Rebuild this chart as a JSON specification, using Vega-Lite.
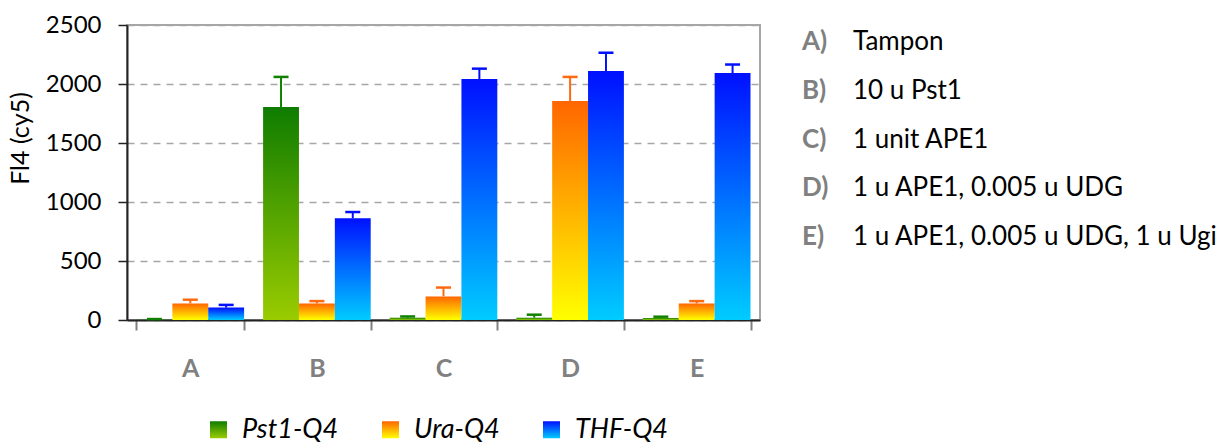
{
  "$schema": "https://vega.github.io/schema/vega-lite/v6.json",
  "background": "white",
  "padding": {"left": 7, "top": 12, "right": 0, "bottom": 0},
  "autosize": {"type": "pad"},
  "bounds": "flush",
  "spacing": 42,
  "config": {"font": "Lato", "view": {"stroke": null}},
  "hconcat": [
    {
      "width": 633,
      "height": 295,
      "view": {"stroke": "#a6a6a6", "strokeWidth": 2},
      "data": {
        "values": [
          {"cat": "A", "series": "Pst1-Q4", "value": 3, "upper": 8},
          {"cat": "A", "series": "Ura-Q4", "value": 140, "upper": 172},
          {"cat": "A", "series": "THF-Q4", "value": 105, "upper": 128},
          {"cat": "B", "series": "Pst1-Q4", "value": 1805, "upper": 2060},
          {"cat": "B", "series": "Ura-Q4", "value": 140, "upper": 160},
          {"cat": "B", "series": "THF-Q4", "value": 862, "upper": 915},
          {"cat": "C", "series": "Pst1-Q4", "value": 20, "upper": 30},
          {"cat": "C", "series": "Ura-Q4", "value": 200, "upper": 275},
          {"cat": "C", "series": "THF-Q4", "value": 2042, "upper": 2130},
          {"cat": "D", "series": "Pst1-Q4", "value": 20, "upper": 45},
          {"cat": "D", "series": "Ura-Q4", "value": 1856, "upper": 2060},
          {"cat": "D", "series": "THF-Q4", "value": 2110, "upper": 2265},
          {"cat": "E", "series": "Pst1-Q4", "value": 18, "upper": 28},
          {"cat": "E", "series": "Ura-Q4", "value": 140, "upper": 160},
          {"cat": "E", "series": "THF-Q4", "value": 2093, "upper": 2165}
        ]
      },
      "encoding": {
        "x": {
          "field": "cat",
          "type": "nominal",
          "scale": {"paddingInner": 0.15, "paddingOuter": 0.075},
          "axis": {
            "title": null,
            "labelAngle": 0,
            "labelFontSize": 25,
            "labelFontWeight": "bold",
            "labelColor": "#808080",
            "labelPadding": 26,
            "tickSize": 10,
            "tickBand": "extent",
            "tickColor": "#808080",
            "tickWidth": 2,
            "domainColor": "#222222",
            "domainWidth": 2
          }
        },
        "xOffset": {
          "field": "series",
          "type": "nominal",
          "scale": {"domain": ["Pst1-Q4", "Ura-Q4", "THF-Q4"], "paddingInner": 0, "paddingOuter": 0}
        }
      },
      "layer": [
        {
          "mark": {"type": "bar"},
          "encoding": {
            "y": {
              "field": "value",
              "type": "quantitative",
              "scale": {"domain": [0, 2500], "nice": false},
              "axis": {
                "title": "Fl4 (cy5)",
                "values": [0, 500, 1000, 1500, 2000, 2500],
                "format": "d",
                "labelFontSize": 24,
                "labelColor": "black",
                "labelPadding": 17,
                "tickSize": 9,
                "tickColor": "#222222",
                "tickWidth": 1.5,
                "domainColor": "#222222",
                "domainWidth": 2,
                "grid": true,
                "gridColor": "#a6a6a6",
                "gridDash": [7, 6],
                "gridWidth": 1.5,
                "titleFontSize": 25,
                "titleFontWeight": "normal",
                "titleColor": "black",
                "titlePadding": 12,
                "titleY": 113
              }
            },
            "color": {
              "field": "series",
              "type": "nominal",
              "scale": {
                "domain": ["Pst1-Q4", "Ura-Q4", "THF-Q4"],
                "range": [
                  {"expr": "{gradient: 'linear', x1: 0, y1: 0, x2: 0, y2: 1, stops: [{offset: 0, color: '#0e7c00'}, {offset: 1, color: '#9acc00'}]}"},
                  {"expr": "{gradient: 'linear', x1: 0, y1: 0, x2: 0, y2: 1, stops: [{offset: 0, color: '#ff6600'}, {offset: 1, color: '#ffff00'}]}"},
                  {"expr": "{gradient: 'linear', x1: 0, y1: 0, x2: 0, y2: 1, stops: [{offset: 0, color: '#0010ff'}, {offset: 1, color: '#00ccff'}]}"}
                ]
              },
              "legend": {
                "orient": "none",
                "legendX": 78,
                "legendY": 391,
                "padding": 0,
                "direction": "horizontal",
                "title": null,
                "symbolType": "square",
                "symbolSize": 289,
                "symbolStrokeWidth": 0,
                "symbolOpacity": 1,
                "labelFontSize": 27,
                "labelFontStyle": "italic",
                "labelColor": "black",
                "labelOffset": 10,
                "columnPadding": 38
              }
            }
          }
        },
        {
          "mark": {"type": "rule", "strokeWidth": 2},
          "encoding": {
            "y": {"field": "value", "type": "quantitative", "scale": {"domain": [0, 2500], "nice": false}},
            "y2": {"field": "upper"},
            "stroke": {
              "field": "series",
              "type": "nominal",
              "scale": {"domain": ["Pst1-Q4", "Ura-Q4", "THF-Q4"], "range": ["#108000", "#ff6a10", "#0010ff"]},
              "legend": null
            }
          }
        },
        {
          "mark": {"type": "tick", "thickness": 2.5, "size": 15, "opacity": 1},
          "encoding": {
            "y": {"field": "upper", "type": "quantitative", "scale": {"domain": [0, 2500], "nice": false}},
            "fill": {
              "field": "series",
              "type": "nominal",
              "scale": {"domain": ["Pst1-Q4", "Ura-Q4", "THF-Q4"], "range": ["#108000", "#ff6a10", "#0010ff"]},
              "legend": null
            }
          }
        }
      ]
    },
    {
      "width": 420,
      "height": 295,
      "data": {
        "values": [
          {"row": "A", "col": "key", "text": "A)"},
          {"row": "A", "col": "desc", "text": "Tampon"},
          {"row": "B", "col": "key", "text": "B)"},
          {"row": "B", "col": "desc", "text": "10 u Pst1"},
          {"row": "C", "col": "key", "text": "C)"},
          {"row": "C", "col": "desc", "text": "1 unit APE1"},
          {"row": "D", "col": "key", "text": "D)"},
          {"row": "D", "col": "desc", "text": "1 u APE1, 0.005 u UDG"},
          {"row": "E", "col": "key", "text": "E)"},
          {"row": "E", "col": "desc", "text": "1 u APE1, 0.005 u UDG, 1 u Ugi"}
        ]
      },
      "encoding": {
        "y": {"field": "row", "type": "ordinal", "scale": {"type": "point", "range": [25, 220], "padding": 0}, "axis": null},
        "x": {"field": "col", "type": "nominal", "scale": {"type": "point", "domain": ["key", "desc"], "range": [0, 51], "padding": 0}, "axis": null},
        "text": {"field": "text"}
      },
      "layer": [
        {
          "transform": [{"filter": "datum.col === 'key'"}],
          "mark": {"type": "text", "align": "left", "baseline": "alphabetic", "fontSize": 26, "fontWeight": "bold", "color": "#808080"}
        },
        {
          "transform": [{"filter": "datum.col === 'desc'"}],
          "mark": {"type": "text", "align": "left", "baseline": "alphabetic", "fontSize": 26, "color": "black"}
        }
      ]
    }
  ]
}
